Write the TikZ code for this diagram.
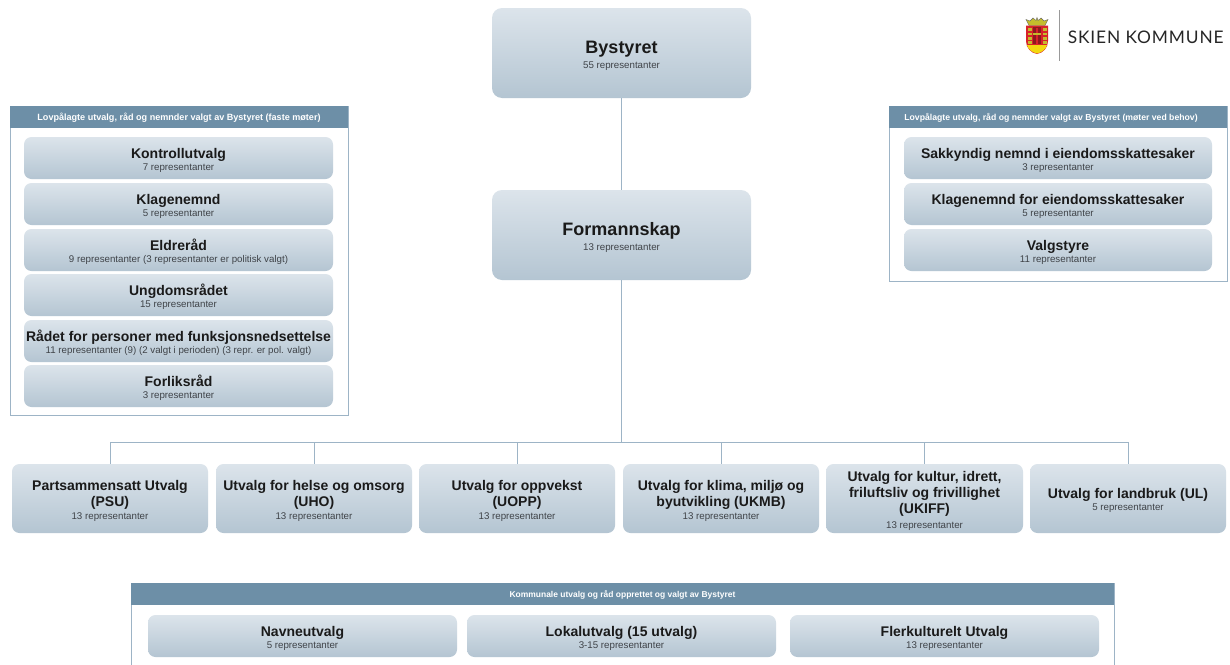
\documentclass[tikz,border=0pt]{standalone}
\usepackage{fontspec}
\setmainfont{Liberation Sans}
\newfontfamily\logofont[LetterSpace=5]{Lato}
\definecolor{hdr}{HTML}{6D8FA7}
\definecolor{edge}{HTML}{9DB4C6}
\definecolor{boxtop}{HTML}{DCE4EB}
\definecolor{boxbot}{HTML}{B4C5D2}
\definecolor{ink}{HTML}{1A1A1A}
\definecolor{subink}{HTML}{3F4348}
\definecolor{shieldred}{HTML}{D8232A}
\definecolor{shielddark}{HTML}{8E1A1E}
\definecolor{shieldyel}{HTML}{F2D90F}
\definecolor{crownyel}{HTML}{C4BC2C}
\tikzset{
  x=0.75pt,y=-0.75pt,
  cardbox/.style={rounded corners=7.5*0.75pt,top color=boxtop,bottom color=boxbot,draw=none,inner sep=0pt,align=center,text=ink},
  bigbox/.style={cardbox,rounded corners=10*0.75pt},
  panel/.style={draw=edge,line width=0.75pt,fill=white,inner sep=0pt},
  headbar/.style={fill=hdr,draw=none,inner sep=0pt,text=white,font=\bfseries\fontsize{6.8}{8}\selectfont},
  wire/.style={draw=edge,line width=0.75pt},
}
\newcommand{\ttl}[1]{{\bfseries\fontsize{10.5}{12}\selectfont #1}}
\newcommand{\bigttl}[1]{\rule{0pt}{13.5pt}{\bfseries\fontsize{13.5}{15}\selectfont #1}}
\newcommand{\subt}[1]{{\fontsize{7.3}{10.5}\selectfont\color{subink} #1}}
\newcommand{\lift}{\rule{0pt}{11pt}}
% name, x1, y1, x2, y2, style, content
\newcommand{\card}[7]{\node[#6,minimum width=(#4-#2)*0.75pt,minimum height=(#5-#3)*0.75pt] (#1) at ({(#2+#4)/2},{(#3+#5)/2}) {#7};}
\begin{document}
\begin{tikzpicture}
\useasboundingbox (0,0) rectangle (1230,664);
\fill[white] (0,0) rectangle (1230,664);
% panels
\card{leftp}{10}{106}{348}{415}{panel}{}
\card{rightp}{889}{106}{1227}{281}{panel}{}
\begin{scope}
\clip (0,0) rectangle (1230,664);
\card{botp}{131}{583}{1114}{680}{panel}{}
\end{scope}
\card{lefth}{10}{106}{348}{128}{headbar}{\rule{0pt}{6.5pt}Lovpålagte utvalg, råd og nemnder valgt av Bystyret (faste møter)}
\card{righth}{889}{106}{1227}{128}{headbar}{\rule{0pt}{6.5pt}\fontsize{6.5}{8}\selectfont Lovpålagte utvalg, råd og nemnder valgt av Bystyret (møter ved behov)\hspace{10.5pt}\null}
\card{both}{131}{583}{1114}{605}{headbar}{\rule{0pt}{6.5pt}\fontsize{6.35}{8}\selectfont Kommunale utvalg og råd opprettet og valgt av Bystyret}
% main
\card{bystyret}{492}{8}{751}{98}{bigbox}{\bigttl{Bystyret}\\[-0.75pt]\subt{55 representanter}}
\card{formann}{492}{190}{751}{280}{bigbox}{\bigttl{Formannskap}\\[-0.75pt]\subt{13 representanter}}
% left list
\card{l1}{24}{137}{333}{179}{cardbox}{\lift\ttl{Kontrollutvalg}\\[-3pt]\subt{7 representanter}}
\card{l2}{24}{183}{333}{225}{cardbox}{\lift\ttl{Klagenemnd}\\[-3pt]\subt{5 representanter}}
\card{l3}{24}{229}{333}{271}{cardbox}{\lift\ttl{Eldreråd}\\[-3pt]\subt{9 representanter (3 representanter er politisk valgt)}}
\card{l4}{24}{274}{333}{316}{cardbox}{\lift\ttl{Ungdomsrådet}\\[-3pt]\subt{15 representanter}}
\card{l5}{24}{320}{333}{362}{cardbox}{\lift\ttl{Rådet for personer med funksjonsnedsettelse}\\[-3pt]\subt{11 representanter (9) (2 valgt i perioden) (3 repr. er pol. valgt)}}
\card{l6}{24}{365}{333}{407}{cardbox}{\lift\ttl{Forliksråd}\\[-3pt]\subt{3 representanter}}
% right list
\card{r1}{904}{137}{1212}{179}{cardbox}{\lift\ttl{Sakkyndig nemnd i eiendomsskattesaker}\\[-3pt]\subt{3 representanter}}
\card{r2}{904}{183}{1212}{225}{cardbox}{\lift\ttl{Klagenemnd for eiendomsskattesaker}\\[-3pt]\subt{5 representanter}}
\card{r3}{904}{229}{1212}{271}{cardbox}{\lift\ttl{Valgstyre}\\[-3pt]\subt{11 representanter}}
% committees
\card{c1}{12}{464}{208}{533}{cardbox}{\lift\ttl{Partsammensatt Utvalg}\\\ttl{(PSU)}\\[-2.25pt]\subt{13 representanter}}
\card{c2}{216}{464}{412}{533}{cardbox}{\lift\ttl{Utvalg for helse og omsorg}\\\ttl{(UHO)}\\[-2.25pt]\subt{13 representanter}}
\card{c3}{419}{464}{615}{533}{cardbox}{\lift\ttl{Utvalg for oppvekst}\\\ttl{(UOPP)}\\[-2.25pt]\subt{13 representanter}}
\card{c4}{623}{464}{819}{533}{cardbox}{\lift\ttl{Utvalg for klima, miljø og}\\\ttl{byutvikling (UKMB)}\\[-2.25pt]\subt{13 representanter}}
\card{c5}{826}{464}{1023}{533}{cardbox}{\lift\ttl{Utvalg for kultur, idrett,}\\\ttl{friluftsliv og frivillighet}\\\ttl{(UKIFF)}\\[-0.75pt]\subt{13 representanter}}
\card{c6}{1030}{464}{1226}{533}{cardbox}{\lift\ttl{Utvalg for landbruk (UL)}\\[-3pt]\subt{5 representanter}}
% bottom
\card{b1}{148}{615}{457}{657}{cardbox}{\lift\ttl{Navneutvalg}\\[-3pt]\subt{5 representanter}}
\card{b2}{467}{615}{776}{657}{cardbox}{\lift\ttl{Lokalutvalg (15 utvalg)}\\[-3pt]\subt{3-15 representanter}}
\card{b3}{790}{615}{1099}{657}{cardbox}{\lift\ttl{Flerkulturelt Utvalg}\\[-3pt]\subt{13 representanter}}
% connectors
\coordinate (bus) at (621.5,442.5);
\draw[wire] (bystyret.south) -- (formann.north);
\draw[wire] (formann.south) -- (bus);
\foreach \c in {c1,c2,c3,c4,c5,c6}{
  \draw[wire] (bus) -| (\c.north);
}
% logo
\draw[draw=black!40,line width=0.75pt] (1059,10) -- (1059,61);
\node[anchor=west,inner sep=0pt,text=black!85] (logotext) at (1067.5,37) {\logofont\fontsize{13}{15}\selectfont SKIEN KOMMUNE};
\begin{scope}
\fill[crownyel,draw=black!60,line width=0.3pt] (1029,25.5) -- (1026,19.5) -- (1030,21) -- (1033,18) -- (1036,20.5) -- (1037,17.5) -- (1038,20.5) -- (1041,18) -- (1044,21) -- (1048,19.5) -- (1045,25.5) -- cycle;
\fill[shieldred] (1026,25.5) -- (1048,25.5) -- (1048,41) .. controls (1048,48) and (1043,53) .. (1037,54) .. controls (1031,53) and (1026,48) .. (1026,41) -- cycle;
\fill[shieldyel] (1027,45) -- (1047,45) .. controls (1046,49) and (1042,52.5) .. (1037,53.5) .. controls (1032,52.5) and (1028,49) .. (1027,45) -- cycle;
\foreach \yy in {28,32.5,37,41}{
  \fill[crownyel] (1027.5,\yy) rectangle (1031.5,\yy+2.5);
  \fill[crownyel] (1042.5,\yy) rectangle (1046.5,\yy+2.5);
}
\fill[shielddark] (1033,27) rectangle (1041,44);
\fill[shieldred] (1036,28) rectangle (1038,44);
\fill[crownyel] (1033,33) rectangle (1041,35);
\end{scope}
\end{tikzpicture}
\end{document}
